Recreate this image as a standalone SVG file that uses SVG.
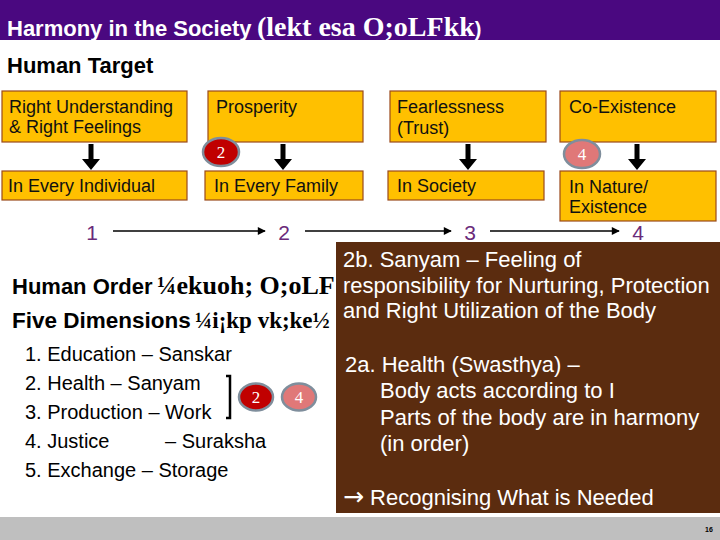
<svg xmlns="http://www.w3.org/2000/svg" width="720" height="540" viewBox="0 0 720 540">
<style>
.box{fill:#FFC000;stroke:#9a4a1c;stroke-width:1.2}
.bt{font-family:"Liberation Sans",Arial,sans-serif;font-size:18px;fill:#111}
.hd{font-family:"Liberation Sans",Arial,sans-serif;font-weight:bold;fill:#000}
.sf{font-family:"Liberation Serif","Times New Roman",serif;font-weight:bold}
.num{font-family:"Liberation Sans",Arial,sans-serif;font-size:21px;fill:#6a2a7a;text-anchor:middle}
.li{font-family:"Liberation Sans",Arial,sans-serif;font-size:20px;fill:#000}
.wt{font-family:"Liberation Sans",Arial,sans-serif;font-size:22px;fill:#fff}
.ct{font-family:"Liberation Serif","Times New Roman",serif;font-size:17px;fill:#fff;text-anchor:middle}
.c2{fill:#c00000;stroke:#7f8e9c;stroke-width:2.5}
.c4{fill:#e07878;stroke:#7f8e9c;stroke-width:2.5}
.ha{stroke:#000;stroke-width:1.6;fill:none}
</style>
<defs>
<marker id="ah" viewBox="0 0 10 10" refX="9" refY="5" markerWidth="9" markerHeight="8" markerUnits="userSpaceOnUse" orient="auto"><path d="M0,0 L10,5 L0,10 z" fill="#000"/></marker>
</defs>
<rect x="0" y="0" width="720" height="540" fill="#fff"/>
<g id="header">
<rect x="0" y="0" width="720" height="40" fill="#4a0880"/>
<text x="7" y="36" class="hd" style="fill:#fff;font-size:22px">Harmony in the Society <tspan x="257" class="sf" style="font-size:28px">(lekt esa O;oLFkk</tspan><tspan class="hd" style="fill:#fff;font-size:20px">)</tspan></text>
</g>
<text id="human-target" x="7" y="73" class="hd" style="font-size:22px">Human Target</text>
<g id="box-right-understanding"><rect class="box" x="2" y="91" width="185" height="51"/><text class="bt" x="9" y="113">Right Understanding</text><text class="bt" x="9" y="133">&amp; Right Feelings</text></g>
<g id="box-prosperity"><rect class="box" x="208" y="91" width="155" height="51"/><text class="bt" x="216" y="113">Prosperity</text></g>
<g id="box-fearlessness"><rect class="box" x="390" y="91" width="156" height="51"/><text class="bt" x="397" y="113">Fearlessness</text><text class="bt" x="397" y="134">(Trust)</text></g>
<g id="box-coexistence"><rect class="box" x="560" y="91" width="156" height="51"/><text class="bt" x="569" y="113">Co-Existence</text></g>
<g id="box-individual"><rect class="box" x="2" y="171" width="185" height="29"/><text class="bt" x="8" y="192">In Every Individual</text></g>
<g id="box-family"><rect class="box" x="205" y="171" width="158" height="29"/><text class="bt" x="214" y="192">In Every Family</text></g>
<g id="box-society"><rect class="box" x="388" y="171" width="156" height="29"/><text class="bt" x="397" y="192">In Society</text></g>
<g id="box-nature"><rect class="box" x="560" y="171" width="156" height="50"/><text class="bt" x="569" y="193">In Nature/</text><text class="bt" x="569" y="213">Existence</text></g>
<g id="badge-2-top"><ellipse class="c2" cx="221" cy="152" rx="18" ry="14"/><text class="ct" x="221" y="158">2</text></g>
<g id="badge-4-top"><ellipse class="c4" cx="582" cy="154" rx="18" ry="14"/><text class="ct" x="582" y="160">4</text></g>
<g id="connectors">
<path d="M88.5,144 h5 v15 h6.5 l-9,11 l-9,-11 h6.5 z" fill="#000"/>
<path d="M280.5,144 h5 v15 h6.5 l-9,11 l-9,-11 h6.5 z" fill="#000"/>
<path d="M465.5,144 h5 v15 h6.5 l-9,11 l-9,-11 h6.5 z" fill="#000"/>
<path d="M634.5,144 h5 v15 h6.5 l-9,11 l-9,-11 h6.5 z" fill="#000"/>
<line class="ha" x1="113" y1="231" x2="265" y2="231" marker-end="url(#ah)"/>
<line class="ha" x1="305" y1="231" x2="451" y2="231" marker-end="url(#ah)"/>
<line class="ha" x1="490" y1="231" x2="619" y2="231" marker-end="url(#ah)"/>
</g>
<g id="stage-numbers">
<text class="num" x="92" y="240">1</text>
<text class="num" x="284" y="240">2</text>
<text class="num" x="470" y="240">3</text>
<text class="num" x="638" y="240">4</text>
</g>
<g id="human-order">
<text x="12" y="294" class="hd" style="font-size:22px">Human Order <tspan x="157" class="sf" style="font-size:26px">¼ekuoh; O;oLF</tspan></text>
<text x="12" y="328" class="hd" style="font-size:22.5px">Five Dimensions <tspan x="195" class="sf" style="font-size:23px">¼i¡kp vk;ke½</tspan></text>
</g>
<g id="dimension-list">
<text class="li" x="25" y="361">1. Education – Sanskar</text>
<text class="li" x="25" y="390">2. Health – Sanyam</text>
<text class="li" x="25" y="419">3. Production – Work</text>
<text class="li" x="25" y="448">4. Justice</text>
<text class="li" x="165" y="448">– Suraksha</text>
<text class="li" x="25" y="477">5. Exchange – Storage</text>
<path d="M226,376 h4 v42 h-4" fill="none" stroke="#000" stroke-width="2.5"/>
</g>
<g id="badge-2-list"><ellipse class="c2" cx="256" cy="397" rx="17" ry="13.5"/><text class="ct" x="256" y="403">2</text></g>
<g id="badge-4-list"><ellipse class="c4" cx="299" cy="397" rx="17" ry="13.5"/><text class="ct" x="299" y="403">4</text></g>
<g id="sanyam-panel">
<rect x="336" y="242" width="384" height="271" fill="#5b2c0f"/>
<text class="wt" x="343" y="267">2b. Sanyam – Feeling of</text>
<text class="wt" x="343" y="293">responsibility for Nurturing, Protection</text>
<text class="wt" x="343" y="318">and Right Utilization of the Body</text>
<text class="wt" x="345" y="372">2a. Health (Swasthya) –</text>
<text class="wt" x="380" y="398">Body acts according to I</text>
<text class="wt" x="380" y="425">Parts of the body are in harmony</text>
<text class="wt" x="380" y="451">(in order)</text>
<text class="wt" x="343" y="505"><tspan style="font-family:'DejaVu Sans',sans-serif;font-size:25px">→</tspan> Recognising What is Needed</text>
</g>
<g id="footer">
<rect x="0" y="517" width="720" height="23" fill="#bfbfbf"/>
<text x="709" y="532" style="font-family:'Liberation Sans',Arial,sans-serif;font-size:7px;font-weight:bold;fill:#000;text-anchor:middle">16</text>
</g>
</svg>
